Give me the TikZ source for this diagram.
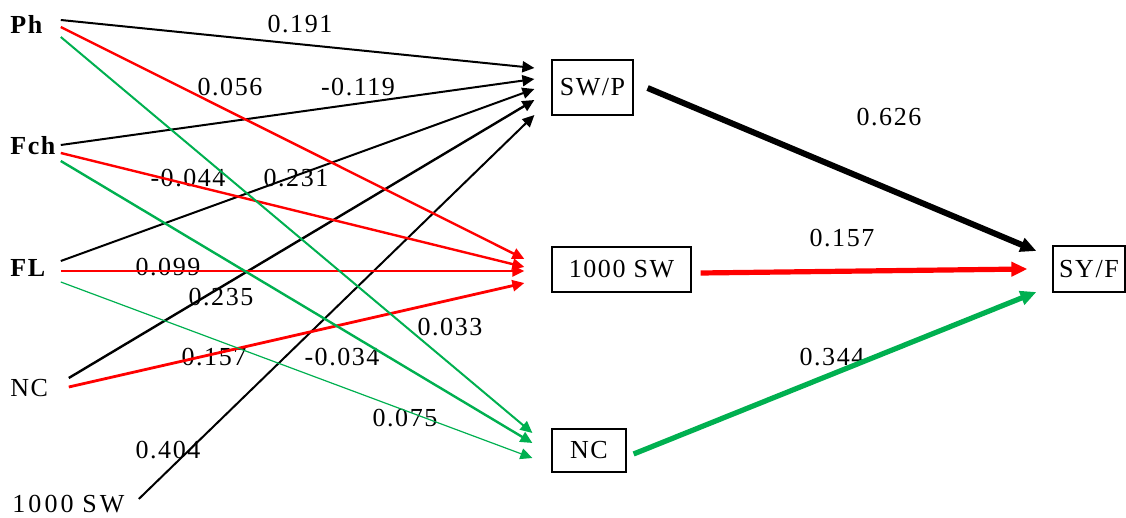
\documentclass[tikz,border=0pt]{standalone}
\usepackage{fontspec}
\setmainfont{Liberation Serif}[LetterSpace=6]
\usetikzlibrary{arrows.meta,calc}
\definecolor{pathred}{RGB}{255,0,0}
\definecolor{pathgreen}{RGB}{0,176,80}
\begin{document}
\begin{tikzpicture}[x=0.5pt,y=-0.5pt,
  src/.style={anchor=west,inner sep=0pt,text width=25pt,align=left,font=\fontsize{13}{15}\selectfont\bfseries},
  srcreg/.style={src,font=\fontsize{13}{15}\selectfont},
  var/.style={draw,line width=0.6pt,inner sep=0pt,font=\fontsize{13}{15}\selectfont},
  coef/.style={inner sep=0pt,font=\fontsize{13}{15}\selectfont},
  thin/.style={-{Triangle[length=6pt,width=5.5pt]}},
  thick/.style={-{Triangle[length=8pt,width=7pt]}},
  blk/.style={thin,black,line width=1pt},
  rd/.style={thin,pathred,line width=1.2pt},
  gr/.style={thin,pathgreen,line width=1pt}]
\useasboundingbox (0,0) rectangle (1126,518);

% exogenous variables
\node[src] (ph) at (10,24) {Ph};
\node[src] (fch) at (10,146) {Fch};
\node[src] (fl) at (10,268) {FL};
\node[srcreg] (nc) at (10,388) {NC};
\node[srcreg,text width=63pt,font=\fontsize{13}{15}\addfontfeatures{LetterSpace=12}\selectfont] (sw) at (12,504) {1000 SW};

% yield components and yield
\node[var,minimum width=40.5pt,minimum height=27.5pt] (swp) at (592.5,87.5) {SW/P};
\node[var,minimum width=69.5pt,minimum height=22.5pt] (kw) at (621.5,269.5) {1000 SW};
\node[var,minimum width=37pt,minimum height=21.5pt] (ncb) at (589,450.5) {NC};
\node[var,minimum width=36pt,minimum height=23pt] (syf) at (1089,269) {SY/F};

% path coefficients
\node[coef] (c1) at (300,24) {0.191};
\node[coef] (c2) at (230,87) {0.056};
\node[coef] (c3) at (358,87) {-0.119};
\node[coef] (c4) at (188,178) {-0.044};
\node[coef] (c5) at (296,178) {0.231};
\node[coef] (c6) at (168,267) {0.099};
\node[coef] (c7) at (221,297) {0.235};
\node[coef] (c8) at (214,357) {0.157};
\node[coef] (c9) at (342,357) {-0.034};
\node[coef] (c10) at (450,327) {0.033};
\node[coef] (c11) at (405,418) {0.075};
\node[coef] (c12) at (168,450) {0.404};
\node[coef] (c13) at (889,117) {0.626};
\node[coef] (c14) at (842,238) {0.157};
\node[coef] (c15) at (832,357) {0.344};

% paths to SW/P
\draw[blk] ($(ph.east)+(0,-4)$) -- ($(swp.west)+(-17,-19.5)$);
\draw[blk] ($(fch.east)+(0,-1)$) -- ($(swp.west)+(-17,-8.5)$);
\draw[blk] ($(fl.east)+(0,-7)$) -- ($(swp.west)+(-17,1.5)$);
\draw[blk,line width=1.2pt] ($(nc.east)+(8,-10)$) -- ($(swp.west)+(-17,12.5)$);
\draw[blk] ($(sw.east)+(0,-5)$) -- ($(swp.west)+(-17,27.5)$);

% paths to 1000 SW
\draw[rd] ($(ph.east)+(0,3)$) -- ($(kw.west)+(-27,-10.5)$);
\draw[rd] ($(fch.east)+(0,7)$) -- ($(kw.west)+(-27,-2.5)$);
\draw[rd] ($(fl.east)+(0,3)$) -- ($(kw.west)+(-27,1.5)$);
\draw[rd,line width=1.4pt] ($(nc.east)+(8,-1)$) -- ($(kw.west)+(-27,13.5)$);

% paths to NC
\draw[gr] ($(ph.east)+(0,13)$) -- ($(ncb.west)+(-19,-17.5)$);
\draw[gr,line width=1.2pt] ($(fch.east)+(0,15)$) -- ($(ncb.west)+(-19,-7.5)$);
\draw[gr,line width=0.6pt] ($(fl.east)+(0,14)$) -- ($(ncb.west)+(-19,7.5)$);

% paths to SY/F
\draw[thick,black,line width=3pt] ($(swp.east)+(14,0.5)$) -- ($(syf.west)+(-16,-18)$);
\draw[thick,pathred,line width=2.6pt] ($(kw.east)+(9,3.5)$) -- ($(syf.west)+(-25,0)$);
\draw[thick,pathgreen,line width=2.6pt] ($(ncb.east)+(7,3.5)$) -- ($(syf.west)+(-16,23)$);
\end{tikzpicture}
\end{document}
